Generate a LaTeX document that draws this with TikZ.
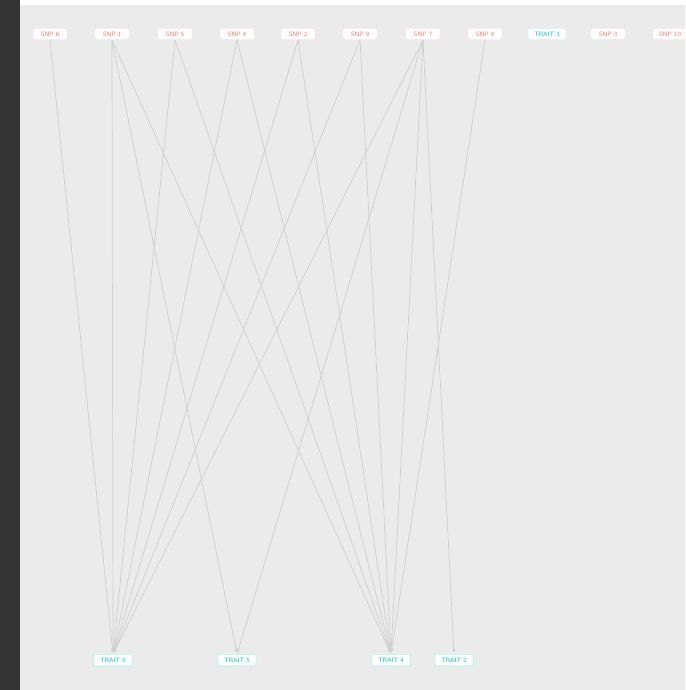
\documentclass[tikz,border=0pt]{standalone}
\usepackage{tikz}
\usetikzlibrary{arrows.meta}
\definecolor{panel}{HTML}{EBEBEB}
\definecolor{snpred}{HTML}{F8766D}
\definecolor{traitcyan}{HTML}{00BFC4}
\definecolor{edgegray}{HTML}{CFCFCF}
\begin{document}
\begin{tikzpicture}[x=0.025cm, y=-0.025cm, >={Stealth[length=3pt,width=2.5pt]},
	font=\fontsize{4.5}{5}\sffamily, line join=round, line cap=round,
	snp/.style={draw=snpred!20, fill=white, text=snpred, rounded corners=1.5pt, minimum width=24pt, minimum height=8pt, inner sep=1pt},
	trait/.style={draw=traitcyan!20, fill=white, text=traitcyan, rounded corners=1.5pt, minimum width=27pt, minimum height=8pt, inner sep=1pt},
	link/.style={draw=edgegray, line width=0.5pt, ->, shorten >=1pt}]
	\def \top{34} %hàng trên
	\def \bot{660} %hàng dưới
	\useasboundingbox (0,0) rectangle (685,690);
	\fill[black!80] (0,0) rectangle (20,690);
	\fill[white] (20,0) rectangle (685,5);
	\fill[panel] (20,5) rectangle (685,690);
	% hàng trên
	\node[snp] (s6) at (50,\top) {SNP 6};
	\node[snp] (s1) at (112,\top) {SNP 1};
	\node[snp] (s5) at (175,\top) {SNP 5};
	\node[snp] (s4) at (237,\top) {SNP 4};
	\node[snp] (s2) at (298,\top) {SNP 2};
	\node[snp] (s9) at (360,\top) {SNP 9};
	\node[snp] (s7) at (423,\top) {SNP 7};
	\node[snp] (s8) at (485,\top) {SNP 8};
	\node[trait] (t3) at (547,\top) {TRAIT 3};
	\node[snp] (s3) at (608,\top) {SNP 3};
	\node[snp] (s10) at (670,\top) {SNP 10};
	% hàng dưới
	\node[trait] (t0) at (113,\bot) {TRAIT 0};
	\node[trait] (t5) at (237,\bot) {TRAIT 5};
	\node[trait] (t4) at (391,\bot) {TRAIT 4};
	\node[trait] (t2) at (454,\bot) {TRAIT 2};
	% cạnh
	\begin{scope}[on background layer/.try]
	\foreach \s in {s6,s1,s5,s4,s2,s9,s7}
		\draw[link] (\s.south) -- (t0.north);
	\foreach \s in {s1,s5,s4,s2,s9,s7,s8}
		\draw[link] (\s.south) -- (t4.north);
	\draw[link] (s1.south) -- (t5.north);
	\draw[link] (s7.south) -- (t5.north);
	\draw[link] (s7.south) -- (t2.north);
	\end{scope}
	% vẽ lại nút lên trên cạnh
	\foreach \n in {t0,t5,t4,t2}
		\draw[traitcyan!20] (\n.south west) rectangle (\n.north east);
\end{tikzpicture}
\end{document}
